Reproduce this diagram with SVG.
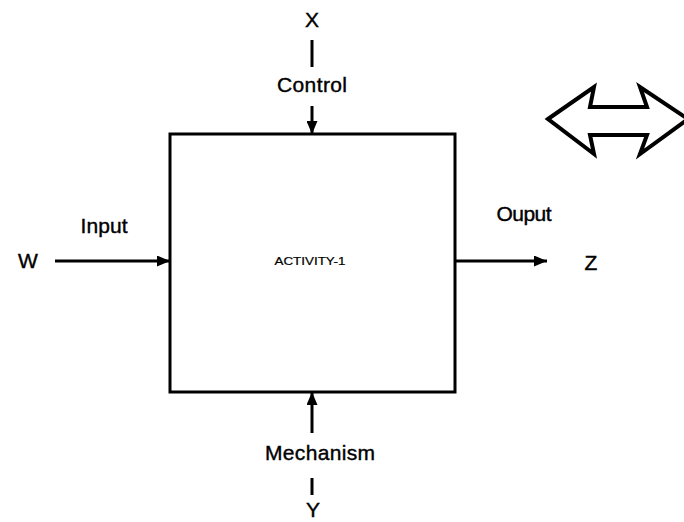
<svg xmlns="http://www.w3.org/2000/svg" width="684" height="522" viewBox="0 0 684 522">
<defs>
<style>
.t{font-family:"Liberation Sans",Arial,sans-serif;font-size:21px;fill:#000;stroke:#000;stroke-width:0.4;text-anchor:middle}
.ln{stroke:#000;stroke-width:3;fill:none}
</style>
<marker id="ah" markerWidth="13" markerHeight="11" refX="13" refY="5.5" orient="auto" markerUnits="userSpaceOnUse">
<path d="M0,0 L13,5.5 L0,11 Z" fill="#000"/>
</marker>
</defs>
<rect width="684" height="522" fill="#fff"/>
<g id="connectors">
<line class="ln" x1="312" y1="40" x2="312" y2="67"/>
<line class="ln" x1="312" y1="106" x2="312" y2="134" marker-end="url(#ah)"/>
<line class="ln" x1="55" y1="261" x2="170" y2="261" marker-end="url(#ah)"/>
<line class="ln" x1="455" y1="261" x2="547" y2="261" marker-end="url(#ah)"/>
<line class="ln" x1="312" y1="433" x2="312" y2="392" marker-end="url(#ah)"/>
<line class="ln" x1="312" y1="478" x2="312" y2="495"/>
</g>
<g id="activity">
<rect x="170" y="134" width="285" height="258" fill="#fff" stroke="#000" stroke-width="3"/>
<text class="t" x="310" y="265" style="font-size:11px;stroke-width:0.2" textLength="71" lengthAdjust="spacingAndGlyphs">ACTIVITY-1</text>
</g>
<g id="x"><text class="t" x="312" y="27">X</text></g>
<g id="control"><text class="t" x="312" y="92" textLength="70">Control</text></g>
<g id="w"><text class="t" x="28" y="268">W</text></g>
<g id="input"><text class="t" x="104" y="233" textLength="47">Input</text></g>
<g id="output"><text class="t" x="524" y="221" textLength="55">Ouput</text></g>
<g id="z"><text class="t" x="591" y="270">Z</text></g>
<g id="mechanism"><text class="t" x="320" y="460" textLength="110">Mechanism</text></g>
<g id="y"><text class="t" x="313" y="517">Y</text></g>
<g id="double-arrow">
<path d="M548,119 L594,87 L590,107 L647,107 L640,87 L688,119 L640,154 L647,135 L590,135 L594,154 Z" fill="#fff" stroke="#000" stroke-width="4" stroke-linejoin="miter"/>
</g>
</svg>
